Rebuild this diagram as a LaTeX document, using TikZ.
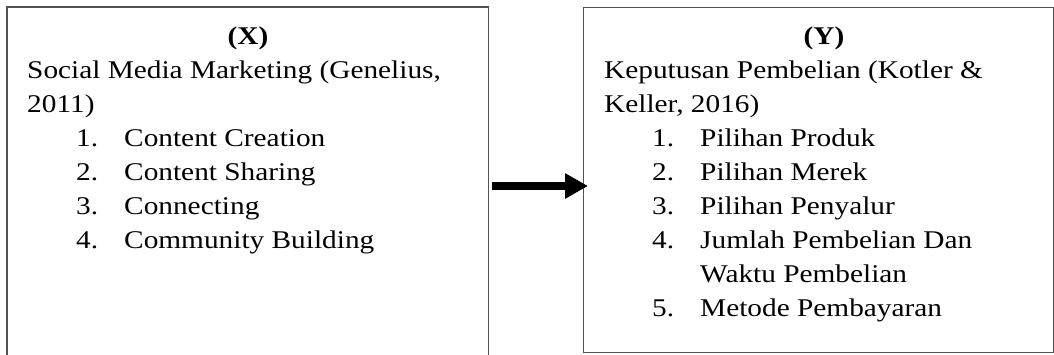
\documentclass[tikz,border=0pt]{standalone}
\usepackage{fontspec}
\setmainfont{Liberation Serif}[FakeStretch=1.15]
\usetikzlibrary{arrows.meta}
\begin{document}
\begin{tikzpicture}[x=1pt,y=1pt,
  txt/.style={anchor=base west,inner sep=0pt,font=\fontsize{25.5}{34}\selectfont},
  ttl/.style={anchor=base,inner sep=0pt,font=\fontsize{25.5}{34}\selectfont\bfseries},
  frame/.style={draw=black!68,line width=1.3pt},
  conn/.style={line width=8pt,-{Triangle[length=23pt,width=24pt]}}]
\useasboundingbox (0,0) rectangle (1054,-354);
% left box (open at bottom)
\node[inner sep=0pt,minimum width=481pt,minimum height=350pt,anchor=north west] (xbox) at (7,-7) {};
\draw[frame] (xbox.south west) -- (xbox.north west) -- (xbox.north east) -- (xbox.south east);
% right box
\node[frame,inner sep=0pt,minimum width=470pt,minimum height=345pt,anchor=north west] (ybox) at (583,-7) {};
% left texts
\node[ttl] (xt) at (248,-44) {(X)};
\node[txt] (x1) at (27,-78) {Social Media Marketing (Genelius,};
\node[txt] (x2) at (27,-112) {2011)};
\node[txt] (xn1) at (76,-146) {1.};
\node[txt] (xi1) at (124,-146) {Content Creation};
\node[txt] (xn2) at (76,-180) {2.};
\node[txt] (xi2) at (124,-180) {Content Sharing};
\node[txt] (xn3) at (76,-214) {3.};
\node[txt] (xi3) at (124,-214) {Connecting};
\node[txt] (xn4) at (76,-248) {4.};
\node[txt] (xi4) at (124,-248) {Community Building};
% right texts
\node[ttl] (yt) at (824,-44) {(Y)};
\node[txt] (y1) at (604,-78) {Keputusan Pembelian (Kotler \&};
\node[txt] (y2) at (604,-112) {Keller, 2016)};
\node[txt] (yn1) at (652,-146) {1.};
\node[txt] (yi1) at (700,-146) {Pilihan Produk};
\node[txt] (yn2) at (652,-180) {2.};
\node[txt] (yi2) at (700,-180) {Pilihan Merek};
\node[txt] (yn3) at (652,-214) {3.};
\node[txt] (yi3) at (700,-214) {Pilihan Penyalur};
\node[txt] (yn4) at (652,-248) {4.};
\node[txt] (yi4) at (700,-248) {Jumlah Pembelian Dan};
\node[txt] (yi4b) at (700,-282) {Waktu Pembelian};
\node[txt] (yn5) at (652,-316) {5.};
\node[txt] (yi5) at (700,-316) {Metode Pembayaran};
% arrow
\coordinate (as) at (492,-186);
\coordinate (ae) at (588,-186);
\draw[conn] (as) -- (ae);
\end{tikzpicture}
\end{document}
